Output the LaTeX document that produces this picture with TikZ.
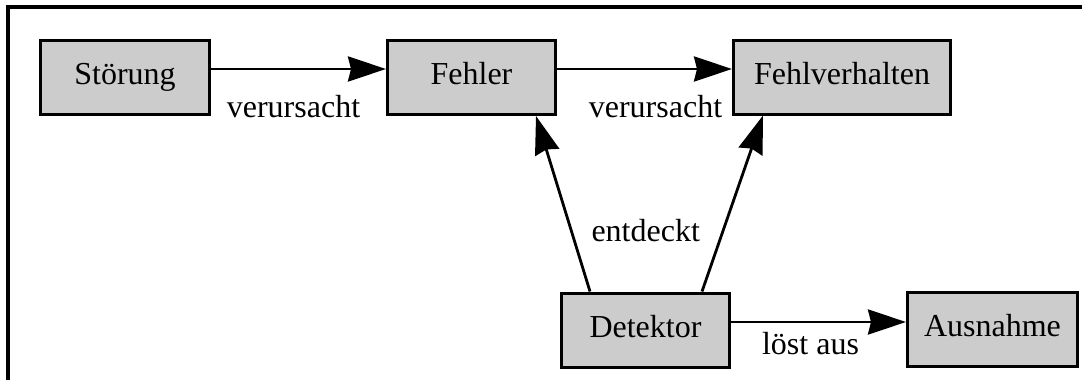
\documentclass[tikz,border=0pt]{standalone}
\usepackage{fontspec}
\setmainfont{Liberation Serif}
\usetikzlibrary{arrows.meta}

\begin{document}
\begin{tikzpicture}[
  x=1pt, y=-1pt,
  every node/.style={font=\fontsize{32}{38}\selectfont},
  box/.style={
    rectangle, draw=black, line width=3pt, fill=gray!40,
    minimum height=74pt, inner sep=0pt, text height=21.5pt, text depth=7pt
  },
  rel/.style={
    draw=black, line width=2.8pt,
    -{Stealth[length=38pt, width=25pt, inset=3pt]}
  },
  lbl/.style={inner sep=0pt}
]
\useasboundingbox (0,0) rectangle (1082,380);

% frame (only top and left edge fit on the page)
\draw[line width=3.2pt] (1082,7) -- (8,7) -- (8,380);

\node[box, minimum width=169pt] (stoer)  at (125,77.5)   {Störung};
\node[box, minimum width=168pt] (fehler) at (471.5,77.5) {Fehler};
\node[box, minimum width=217pt] (fverh)  at (842,77)     {Fehlverhalten};
\node[box, minimum width=168pt] (detekt) at (645.5,330)  {Detektor};
\node[box, minimum width=170pt] (ausn)   at (992.5,329.5) {Ausnahme};

\draw[rel] ([yshift=8.5pt]stoer.east) -- node[lbl, below=25pt, xshift=-5pt]{verursacht} ([yshift=8.5pt]fehler.west);
\draw[rel] ([yshift=8.5pt]fehler.east) -- node[lbl, below=25pt, xshift=11pt]{verursacht} ([yshift=8pt]fverh.west);
\draw[rel] ([xshift=-55.5pt]detekt.north) -- node[lbl, pos=.35, right=19pt]{entdeckt} ([xshift=64.5pt]fehler.south);
\draw[rel] ([xshift=56.5pt]detekt.north) -- ([xshift=-79pt]fverh.south);
\draw[rel] ([yshift=8pt]detekt.east) -- node[lbl, below=9pt, xshift=-8pt]{löst aus} ([yshift=7.5pt]ausn.west);
\end{tikzpicture}
\end{document}
